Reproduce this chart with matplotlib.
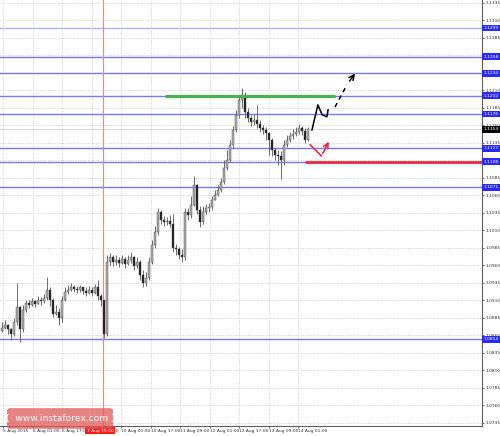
import matplotlib.pyplot as plt
import matplotlib.transforms as mtransforms
from matplotlib.patches import FancyBboxPatch

# EURUSD H1 candles, one bar per slot
close = [1.0870, 1.0875, 1.0868, 1.0862, 1.0879, 1.0900, 1.0868, 1.0896, 1.0906, 1.0903,
         1.0908, 1.0905, 1.0910, 1.0908, 1.0913, 1.0925, 1.0910, 1.0890, 1.0893, 1.0885,
         1.0910, 1.0922, 1.0925, 1.0929, 1.0926, 1.0925, 1.0928, 1.0923, 1.0920, 1.0925,
         1.0920, 1.0928, 1.0916, 1.0910, 1.0862, 1.0965, 1.0971, 1.0965, 1.0968, 1.0963,
         1.0969, 1.0962, 1.0968, 1.0971, 1.0959, 1.0965, 1.0946, 1.0935, 1.0942, 1.0965,
         1.0989, 1.1008, 1.1036, 1.1025, 1.1022, 1.1023, 1.1019, 1.0985, 1.0983, 1.0974,
         1.0971, 1.1036, 1.1032, 1.1046, 1.1074, 1.1039, 1.1022, 1.1036, 1.1042, 1.1043,
         1.1053, 1.1060, 1.1068, 1.1079, 1.1099, 1.1110, 1.1132, 1.1153, 1.1175, 1.1196,
         1.1203, 1.1179, 1.1170, 1.1165, 1.1168, 1.1162, 1.1156, 1.1153, 1.1149, 1.1139,
         1.1125, 1.1118, 1.1116, 1.1110, 1.1132, 1.1139, 1.1145, 1.1148, 1.1150, 1.1156,
         1.1152, 1.1139, 1.1154]
high = [1.0879, 1.0882, 1.0876, 1.0870, 1.0885, 1.0935, 1.0902, 1.0903, 1.0910, 1.0910,
        1.0913, 1.0910, 1.0916, 1.0915, 1.0919, 1.0943, 1.0928, 1.0913, 1.0903, 1.0899,
        1.0916, 1.0928, 1.0932, 1.0935, 1.0932, 1.0930, 1.0932, 1.0929, 1.0928, 1.0930,
        1.0928, 1.0933, 1.0939, 1.0919, 1.0908, 1.0974, 1.0978, 1.0974, 1.0975, 1.0971,
        1.0975, 1.0971, 1.0974, 1.0979, 1.0973, 1.0971, 1.0968, 1.0953, 1.0950, 1.0971,
        1.0996, 1.1016, 1.1042, 1.1039, 1.1030, 1.1029, 1.1032, 1.1033, 1.0990, 1.0986,
        1.0983, 1.1042, 1.1042, 1.1059, 1.1088, 1.1076, 1.1045, 1.1045, 1.1048, 1.1049,
        1.1059, 1.1068, 1.1074, 1.1085, 1.1110, 1.1125, 1.1139, 1.1159, 1.1182, 1.1202,
        1.1213, 1.1208, 1.1185, 1.1175, 1.1176, 1.1189, 1.1168, 1.1160, 1.1158, 1.1150,
        1.1142, 1.1128, 1.1125, 1.1123, 1.1139, 1.1146, 1.1150, 1.1155, 1.1158, 1.1162,
        1.1159, 1.1156, 1.1158]
low = [1.0865, 1.0868, 1.0862, 1.0853, 1.0859, 1.0875, 1.0850, 1.0865, 1.0893, 1.0899,
       1.0902, 1.0900, 1.0905, 1.0903, 1.0906, 1.0910, 1.0902, 1.0886, 1.0888, 1.0875,
       1.0879, 1.0908, 1.0919, 1.0923, 1.0922, 1.0920, 1.0922, 1.0919, 1.0916, 1.0919,
       1.0916, 1.0919, 1.0910, 1.0902, 1.0856, 1.0859, 1.0960, 1.0959, 1.0960, 1.0958,
       1.0962, 1.0956, 1.0960, 1.0963, 1.0953, 1.0956, 1.0939, 1.0928, 1.0930, 1.0939,
       1.0962, 1.0985, 1.1003, 1.1019, 1.1016, 1.1018, 1.1015, 1.0979, 1.0974, 1.0969,
       1.0965, 1.0968, 1.1025, 1.1028, 1.1045, 1.1033, 1.1015, 1.1019, 1.1033, 1.1036,
       1.1039, 1.1053, 1.1059, 1.1065, 1.1076, 1.1096, 1.1108, 1.1128, 1.1150, 1.1170,
       1.1185, 1.1170, 1.1165, 1.1159, 1.1160, 1.1156, 1.1150, 1.1148, 1.1139, 1.1118,
       1.1116, 1.1110, 1.1103, 1.1083, 1.1103, 1.1129, 1.1136, 1.1140, 1.1145, 1.1148,
       1.1146, 1.1135, 1.1138]
first_open = 1.0866

levels = [1.1299, 1.1258, 1.1234, 1.1202, 1.1176, 1.1127, 1.1108, 1.1071, 1.0854]
last_price = 1.1154
resistance = 1.1202
support = 1.1108

tick_pos = [0.3, 10.2, 20.0, 29.9, 39.7, 49.6, 59.4, 69.3, 79.1, 89.0, 98.8]
tick_labels = ['5 Aug 2015', '6 Aug 01:00', '6 Aug 17:00', '7 Aug 09:00', '10 Aug 01:00',
               '10 Aug 17:00', '11 Aug 09:00', '12 Aug 01:00', '12 Aug 17:00',
               '13 Aug 09:00', '14 Aug 01:00']
vline_pos = 33.7
vline_label = '7 Aug 15:00'

price_ticks = [1.0735 + 0.0025 * k for k in range(25)]

fig = plt.figure(figsize=(5, 4.36), dpi=100)
ax = fig.add_axes([0, 10 / 436, 482 / 500, 426 / 436])
ax.set_facecolor('white')

# grid
for p in price_ticks:
    ax.axhline(p, color='#d0d0d0', lw=0.6, ls=(0, (1.5, 1.5)), zorder=0)
for t in tick_pos:
    ax.axvline(t, color='#d0d0d0', lw=0.6, ls=(0, (1.5, 1.5)), zorder=0)

# levels
for lv in levels:
    c = '#b0b4ff' if lv == 1.1299 else '#7878ff'
    ax.axhline(lv, color=c, lw=1.0, zorder=1)
ax.axhline(last_price, color='#dadada', lw=0.7, zorder=1)
ax.axvline(vline_pos, color='#ff8080', lw=0.9, zorder=1)

# candles
opens = [first_open] + close[:-1]
for i in range(len(close)):
    o, c, h, l = opens[i], close[i], high[i], low[i]
    ax.vlines(i, l, h, color='#555555', lw=0.6, zorder=3)
    bull = c >= o
    ax.bar(i, max(abs(c - o), 0.00005), bottom=min(o, c), width=0.6,
           color='#b0b0b0' if bull else '#202020', edgecolor='#404040', lw=0.3, zorder=4)

# key levels
ax.plot([54.3, 111], [resistance, resistance], color='#4caf50', lw=2.3, zorder=5, solid_capstyle='butt')
ax.plot([101, 160], [support, support], color='#ee2233', lw=1.9, zorder=5, solid_capstyle='butt')

# forecast arrows
ax.plot([103.3, 105.3, 106.7, 108.3, 108.7], [1.1153, 1.1189, 1.1175, 1.1172, 1.1182],
        color='black', lw=1.1, zorder=6)
ax.plot([111, 115.0], [1.1186, 1.1218], color='black', lw=1.1, ls=(0, (3, 2.5)), zorder=6)
ax.annotate('', xy=(118.2, 1.1237), xytext=(115.3, 1.1220),
            arrowprops=dict(arrowstyle='->', color='black', lw=1.1, mutation_scale=9), zorder=6)
ax.plot([102.7, 106.5], [1.1132, 1.1116], color='#ee2233', lw=1.1, zorder=6)
ax.annotate('', xy=(109.3, 1.1140), xytext=(106.5, 1.1116),
            arrowprops=dict(arrowstyle='->', color='#ee2233', lw=1.1, mutation_scale=9), zorder=6)

ax.set_xlim(-0.67, 160)
ax.set_ylim(1.0730, 1.1339)

# axes frame
for s in ['left', 'top']:
    ax.spines[s].set_visible(False)
for s in ['right', 'bottom']:
    ax.spines[s].set_color('#606060')
    ax.spines[s].set_linewidth(0.8)

ax.yaxis.tick_right()
ax.set_yticks(price_ticks)
ax.set_yticklabels([f'{p:.4f}' for p in price_ticks])
ax.tick_params(axis='y', labelsize=3.2, length=1.5, pad=1.0, colors='#333333', width=0.5)
ax.set_xticks(tick_pos)
ax.set_xticklabels(tick_labels, ha='left')
ax.tick_params(axis='x', labelsize=3.2, length=1.5, pad=1.0, colors='#333333', width=0.5)

# price boxes on right axis
trans = mtransforms.blended_transform_factory(ax.transAxes, ax.transData)
for lv in levels:
    ax.text(1.003, lv, f'{lv:.4f}', transform=trans, fontsize=3.2, color='white',
            va='center', ha='left', clip_on=False, zorder=10,
            bbox=dict(boxstyle='square,pad=0.3', fc='#2a2aff', ec='none'))
ax.text(1.003, last_price, f'{last_price:.4f}', transform=trans, fontsize=3.2, color='white',
        va='center', ha='left', clip_on=False, zorder=10,
        bbox=dict(boxstyle='square,pad=0.3', fc='black', ec='none'))

# time label for vertical line
transx = mtransforms.blended_transform_factory(ax.transData, ax.transAxes)
ax.text(vline_pos - 5.5, -0.006, vline_label, transform=transx, fontsize=3.2, color='white',
        va='top', ha='left', clip_on=False, zorder=10,
        bbox=dict(boxstyle='square,pad=0.35', fc='#ff1a1a', ec='none'))

# watermark
box = FancyBboxPatch((8 / 500, 1 - 428 / 436), 104 / 500, 19 / 436, transform=fig.transFigure,
                     boxstyle='round,pad=0.002,rounding_size=0.006', fc='#e05a5a', ec='none',
                     alpha=0.75, zorder=20)
fig.patches.append(box)
fig.text(60 / 500, 1 - 418 / 436, '[  www.instaforex.com ]', color='white', fontsize=6.6,
         ha='center', va='center', zorder=21, transform=fig.transFigure)

fig.savefig('out.png', dpi=100)
